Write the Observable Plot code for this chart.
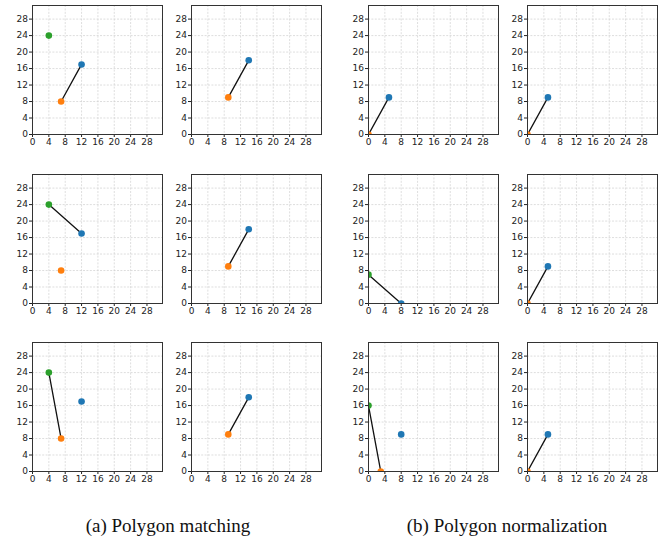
<!DOCTYPE html>
<html>
<head>
<meta charset="utf-8">
<script src="https://cdn.jsdelivr.net/npm/d3@7"></script>
<script src="https://cdn.jsdelivr.net/npm/@observablehq/plot@0.6"></script>
<style>
  html, body { margin: 0; padding: 0; background: #fff; }
  #wrap { position: relative; width: 665px; height: 541px; overflow: hidden; }
  .panel { position: absolute; }
  .cap { position: absolute; font-family: "Liberation Serif", "Times New Roman", serif; font-size: 19px; color: #111; white-space: nowrap; transform: translateX(-50%); }
</style>
</head>
<body>
<div id="wrap"></div>
<script>
// Tick values shared by every panel
const ticks = [0, 4, 8, 12, 16, 20, 24, 28];

// Series (matplotlib tab10 colours)
const seriesNames = ["P0", "P1", "P2"];
const seriesColors = ["#1f77b4", "#ff7f0e", "#2ca02c"];

// Points per panel, row-major (3 rows x 4 columns): [series, x, y]
const panelPoints = [
  [["P2", 4, 24], ["P0", 12, 17], ["P1", 7, 8]],
  [["P0", 14, 18], ["P1", 9, 9]],
  [["P0", 5, 9], ["P1", 0, 0]],
  [["P0", 5, 9], ["P1", 0, 0]],
  [["P2", 4, 24], ["P0", 12, 17], ["P1", 7, 8]],
  [["P0", 14, 18], ["P1", 9, 9]],
  [["P2", 0, 7], ["P0", 8, 0]],
  [["P0", 5, 9], ["P1", 0, 0]],
  [["P2", 4, 24], ["P0", 12, 17], ["P1", 7, 8]],
  [["P0", 14, 18], ["P1", 9, 9]],
  [["P2", 0, 16], ["P0", 8, 9], ["P1", 3, 0]],
  [["P0", 5, 9], ["P1", 0, 0]]
];

// Matched segment per panel: [[x1, y1], [x2, y2]]
const panelLines = [
  [[7, 8], [12, 17]],
  [[9, 9], [14, 18]],
  [[0, 0], [5, 9]],
  [[0, 0], [5, 9]],
  [[4, 24], [12, 17]],
  [[9, 9], [14, 18]],
  [[0, 7], [8, 0]],
  [[0, 0], [5, 9]],
  [[4, 24], [7, 8]],
  [[9, 9], [14, 18]],
  [[0, 16], [3, 0]],
  [[0, 0], [5, 9]]
];

const captions = ["(a) Polygon matching", "(b) Polygon normalization"];

// Layout
const colLeft = [32, 191, 368, 527];
const rowTop = [5, 174, 342];
const frameW = 130, frameH = 129;
const mL = 32, mT = 5, mR = 4, mB = 20;

const wrap = document.getElementById("wrap");

panelPoints.forEach((pts, i) => {
  const r = Math.floor(i / 4), c = i % 4;
  const data = pts.map(([s, x, y]) => ({s, x, y}));
  const seg = panelLines[i].map(([x, y]) => ({x, y}));
  const chart = Plot.plot({
    width: frameW + mL + mR,
    height: frameH + mT + mB,
    marginLeft: mL, marginTop: mT, marginRight: mR, marginBottom: mB,
    style: {fontFamily: "DejaVu Sans, sans-serif", fontSize: "9px", color: "#222", background: "transparent", overflow: "visible"},
    x: {domain: [0, 31.8], ticks: ticks, tickSize: 3, tickPadding: 1.5, label: null},
    y: {domain: [0, 31.3], ticks: ticks, tickSize: 3, tickPadding: 1.5, label: null},
    color: {domain: seriesNames, range: seriesColors},
    marks: [
      Plot.gridX(ticks, {stroke: "#d0d0d0", strokeOpacity: 1, strokeWidth: 0.7, strokeDasharray: "2,1.4"}),
      Plot.gridY(ticks, {stroke: "#d0d0d0", strokeOpacity: 1, strokeWidth: 0.7, strokeDasharray: "2,1.4"}),
      Plot.line(seg, {x: "x", y: "y", stroke: "#111", strokeWidth: 1.3, clip: true}),
      Plot.dot(data, {x: "x", y: "y", fill: "s", r: 3.3, stroke: null, clip: true}),
      Plot.frame({stroke: "#333", strokeWidth: 1})
    ]
  });
  chart.classList.add("panel");
  chart.style.left = (colLeft[c] - mL) + "px";
  chart.style.top = (rowTop[r] - mT) + "px";
  wrap.appendChild(chart);
});

const capX = [168, 507];
captions.forEach((t, k) => {
  const d = document.createElement("div");
  d.className = "cap";
  d.textContent = t;
  d.style.left = capX[k] + "px";
  d.style.top = "515px";
  wrap.appendChild(d);
});
</script>
</body>
</html>
